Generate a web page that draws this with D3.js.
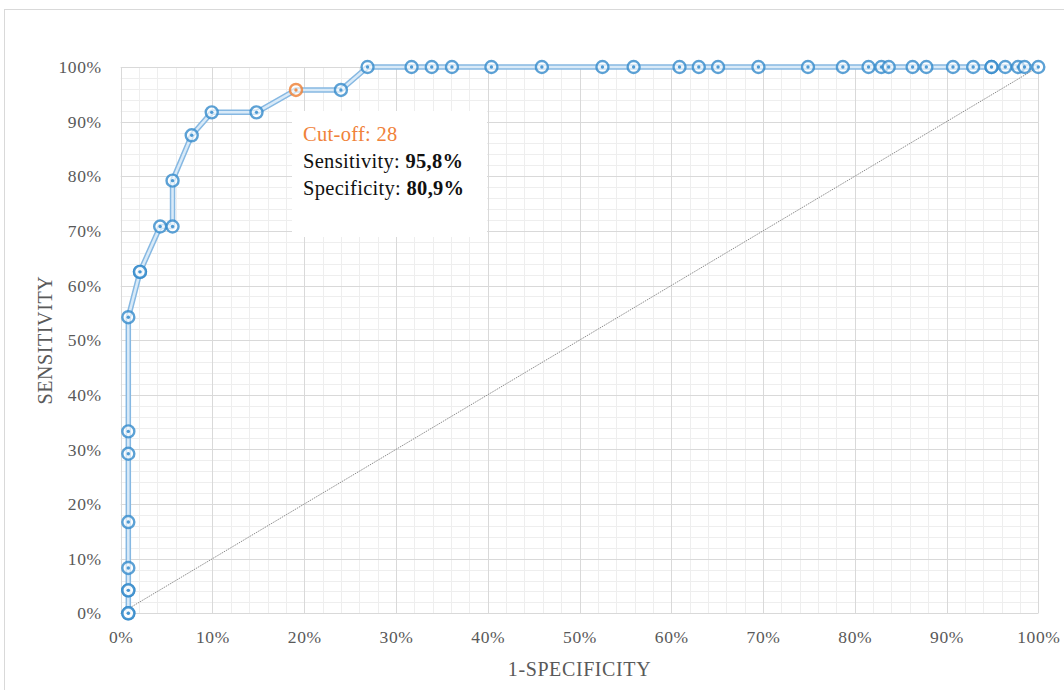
<!DOCTYPE html>
<html>
<head>
<meta charset="utf-8">
<script src="https://cdn.jsdelivr.net/npm/d3@7"></script>
<style>
  html, body { margin: 0; padding: 0; background: #fff; }
  svg { display: block; }
  text { font-family: "Liberation Serif", "DejaVu Serif", serif; }
</style>
</head>
<body>
<svg id="chart" width="1064" height="690"></svg>
<script>
// ROC curve points: 1 - specificity (x) and sensitivity (y), in percent
const oneMinusSpec = [
  0.83, 0.83, 0.83, 0.83, 0.83, 0.83, 0.83, 0.83, 0.83,
  2.1, 2.1, 4.3, 5.65, 5.65, 7.74, 9.92, 14.8, 19.1, 24.0,
  26.9, 31.7, 33.9, 36.1, 40.4, 45.9, 52.5, 55.9, 60.9, 63.0,
  65.1, 69.5, 74.9, 78.7, 81.5, 82.9, 83.7, 86.3, 87.8, 90.7,
  92.9, 94.9, 94.9, 96.4, 97.8, 98.5, 100
];
const sensitivity = [
  0, 0, 4.2, 4.2, 8.3, 16.7, 29.2, 33.3, 54.2,
  62.5, 62.5, 70.8, 70.8, 79.2, 87.5, 91.7, 91.7, 95.8, 95.8,
  100, 100, 100, 100, 100, 100, 100, 100, 100, 100,
  100, 100, 100, 100, 100, 100, 100, 100, 100, 100,
  100, 100, 100, 100, 100, 100, 100
];
// Optimal cut-off point
const cutoffIndex = 17;
const cutoffLabel = "Cut-off: 28";
const sensLabel = ["Sensitivity: ", "95,8%"];
const specLabel = ["Specificity: ", "80,9%"];

const majorTicks = d3.range(0, 101, 10);
const minorTicks = d3.range(0, 101, 2);

const svg = d3.select("#chart");

// outer frame
svg.append("rect")
  .attr("x", 4.5).attr("y", 9.5)
  .attr("width", 1080).attr("height", 700)
  .attr("fill", "none").attr("stroke", "#d9d9d9");

const plotLeft = 120.7, plotRight = 1038.3, plotTop = 67, plotBottom = 613.3;
const x = d3.scaleLinear().domain([0, 100]).range([plotLeft, plotRight]);
const y = d3.scaleLinear().domain([0, 100]).range([plotBottom, plotTop]);

// minor grid
const grid = svg.append("g");
const minorOnly = minorTicks.filter(d => d % 10 !== 0);
grid.selectAll(".mx").data(minorOnly).join("line").attr("class", "mx")
  .attr("x1", d => Math.round(x(d)) + 0.5).attr("x2", d => Math.round(x(d)) + 0.5)
  .attr("y1", plotTop).attr("y2", plotBottom)
  .attr("stroke", "#eeeeee").attr("stroke-width", 1);
grid.selectAll(".my").data(minorOnly).join("line").attr("class", "my")
  .attr("y1", d => Math.round(y(d)) + 0.5).attr("y2", d => Math.round(y(d)) + 0.5)
  .attr("x1", plotLeft).attr("x2", plotRight)
  .attr("stroke", "#eeeeee").attr("stroke-width", 1);
// major grid
grid.selectAll(".Mx").data(majorTicks).join("line").attr("class", "Mx")
  .attr("x1", d => Math.round(x(d)) + 0.5).attr("x2", d => Math.round(x(d)) + 0.5)
  .attr("y1", plotTop).attr("y2", plotBottom)
  .attr("stroke", "#d9d9d9").attr("stroke-width", 1);
grid.selectAll(".My").data(majorTicks).join("line").attr("class", "My")
  .attr("y1", d => Math.round(y(d)) + 0.5).attr("y2", d => Math.round(y(d)) + 0.5)
  .attr("x1", plotLeft).attr("x2", plotRight)
  .attr("stroke", "#d9d9d9").attr("stroke-width", 1);

// axes tick labels
const fmt = d => d + "%";
const xAxis = d3.axisBottom(x).tickValues(majorTicks).tickFormat(fmt).tickSize(0).tickPadding(17);
const yAxis = d3.axisLeft(y).tickValues(majorTicks).tickFormat(fmt).tickSize(0).tickPadding(19);
const gx = svg.append("g").attr("transform", `translate(0,${plotBottom})`).call(xAxis);
const gy = svg.append("g").attr("transform", `translate(${plotLeft},0)`).call(yAxis);
[gx, gy].forEach(g => {
  g.select(".domain").remove();
  g.selectAll("text")
    .attr("fill", "#595959")
    .style("font-size", "17.5px")
    .style("letter-spacing", "0.6px")
    .style("font-family", "'Liberation Serif', serif");
});

// axis titles
svg.append("text")
  .attr("x", (plotLeft + plotRight) / 2).attr("y", 676)
  .attr("text-anchor", "middle")
  .attr("fill", "#595959").style("font-size", "20px")
  .style("letter-spacing", "0.6px")
  .text("1-SPECIFICITY");
svg.append("text")
  .attr("transform", `translate(52,${(plotTop + plotBottom) / 2}) rotate(-90)`)
  .attr("text-anchor", "middle")
  .attr("fill", "#595959").style("font-size", "20px")
  .style("letter-spacing", "0.6px")
  .text("SENSITIVITY");

// reference diagonal
svg.append("line")
  .attr("x1", x(0)).attr("y1", y(0))
  .attr("x2", x(100)).attr("y2", y(100))
  .attr("stroke", "#8c8c8c").attr("stroke-width", 1)
  .attr("stroke-dasharray", "1.5,1");

// ROC line (double-stroke look)
const pts = oneMinusSpec.map((v, i) => [v, sensitivity[i]]);
const line = d3.line().x(d => x(d[0])).y(d => y(d[1]));
svg.append("path").datum(pts).attr("d", line)
  .attr("fill", "none").attr("stroke", "#86b8e2").attr("stroke-width", 5.5)
  .attr("stroke-linejoin", "round");
svg.append("path").datum(pts).attr("d", line)
  .attr("fill", "none").attr("stroke", "#d9eaf8").attr("stroke-width", 2.5)
  .attr("stroke-linejoin", "round");

// label box
const box = svg.append("g");
box.append("rect")
  .attr("x", 292).attr("y", 111).attr("width", 195).attr("height", 126)
  .attr("fill", "#ffffff");
box.append("text").attr("x", 303).attr("y", 141)
  .attr("fill", "#f0823a").style("font-size", "20.5px")
  .style("letter-spacing", "0.3px").text(cutoffLabel);
const t1 = box.append("text").attr("x", 303).attr("y", 168)
  .attr("fill", "#111").style("font-size", "20.5px").style("letter-spacing", "0.3px");
t1.append("tspan").text(sensLabel[0]);
t1.append("tspan").attr("font-weight", "bold").text(sensLabel[1]);
const t2 = box.append("text").attr("x", 303).attr("y", 195)
  .attr("fill", "#111").style("font-size", "20.5px").style("letter-spacing", "0.3px");
t2.append("tspan").text(specLabel[0]);
t2.append("tspan").attr("font-weight", "bold").text(specLabel[1]);

// markers
const markers = svg.append("g");
const mg = markers.selectAll("g").data(pts).join("g")
  .attr("transform", d => `translate(${x(d[0])},${y(d[1])})`);
mg.append("circle").attr("r", 6)
  .attr("fill", "#ffffff").attr("fill-opacity", 0.6)
  .attr("stroke", (d, i) => i === cutoffIndex ? "#ed7d31" : "#3389cb")
  .attr("stroke-opacity", 0.8)
  .attr("stroke-width", 2.4);
mg.append("circle").attr("r", 1.7)
  .attr("fill", (d, i) => i === cutoffIndex ? "#ed7d31" : "#3389cb")
  .attr("fill-opacity", 0.85);
</script>
</body>
</html>
